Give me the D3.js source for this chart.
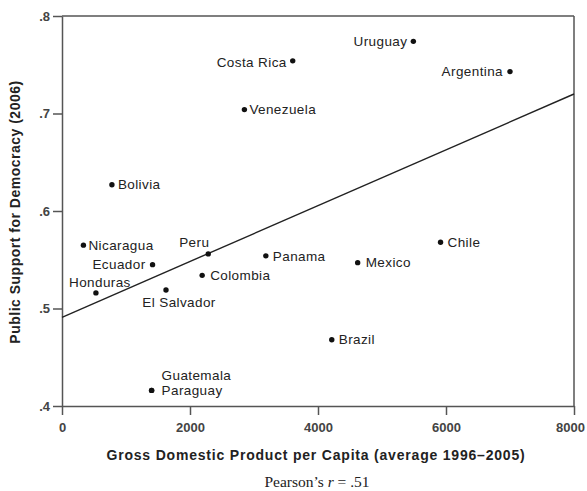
<!DOCTYPE html>
<html>
<head>
<meta charset="utf-8">
<script src="https://cdn.jsdelivr.net/npm/d3@7"></script>
<style>
  body { margin: 0; background: #fff; }
  svg { display: block; }
</style>
</head>
<body>
<svg id="chart" width="587" height="491"></svg>
<script>
// countries, GDP per capita (avg 1996-2005) and support for democracy (2006)
const countries = ["Costa Rica", "Uruguay", "Argentina", "Venezuela", "Bolivia", "Nicaragua", "Peru",
  "Ecuador", "Colombia", "Honduras", "El Salvador", "Panama", "Guatemala", "Paraguay", "Chile", "Mexico", "Brazil"];
const gdp = [3605, 5490, 7000, 2850, 780, 335, 2285, 1415, 2190, 530, 1625, 3185, 1400, 1400, 5915, 4620, 4215];
const support = [.754, .774, .743, .704, .627, .565, .556, .545, .534, .516, .519, .554, .416, .416, .568, .547, .468];

const xTicks = [0, 2000, 4000, 6000, 8000];
const yTicks = [.4, .5, .6, .7, .8];

// regression line end points
const fitX = [0, 8000];
const fitY = [.491, .72];

// label placement relative to the dot
const labelPos = {
  "Costa Rica": ["end", -6, 1], "Uruguay": ["end", -6, 0], "Argentina": ["end", -7, 0],
  "Venezuela": ["start", 5, 0], "Bolivia": ["start", 6, 0], "Nicaragua": ["start", 5, 0],
  "Peru": ["middle", -14, -12], "Ecuador": ["end", -7, 0], "Colombia": ["start", 8, 0],
  "Honduras": ["middle", 4, -11], "El Salvador": ["middle", 13, 12], "Panama": ["start", 7, 0],
  "Guatemala": ["start", 10, -15], "Paraguay": ["start", 10, 0], "Chile": ["start", 7, 0],
  "Mexico": ["start", 8, 0], "Brazil": ["start", 7, 0]
};

const svg = d3.select("#chart");
const sans = "Liberation Sans, Arial, sans-serif";

const x = d3.scaleLinear().domain([0, 8000]).range([62, 574]);
const y = d3.scaleLinear().domain([.4, .8]).range([406, 16]);

// frame: top and right border
svg.append("line").attr("x1", x(0)).attr("x2", x(8000)).attr("y1", y(.8)).attr("y2", y(.8))
  .attr("stroke", "#555").attr("stroke-width", 1.5);
svg.append("line").attr("x1", x(8000)).attr("x2", x(8000)).attr("y1", y(.8)).attr("y2", y(.4))
  .attr("stroke", "#555").attr("stroke-width", 1.5);

const yAxis = d3.axisLeft(y).tickValues(yTicks).tickSize(9).tickSizeOuter(0).tickPadding(3)
  .tickFormat(d => "." + Math.round(d * 10));
const xAxis = d3.axisBottom(x).tickValues(xTicks).tickSize(9).tickSizeOuter(0).tickPadding(8)
  .tickFormat(d3.format("d"));

const gy = svg.append("g").attr("transform", `translate(${x(0)},0)`).call(yAxis);
const gx = svg.append("g").attr("transform", `translate(0,${y(.4)})`).call(xAxis);

[gx, gy].forEach(g => {
  g.select(".domain").attr("stroke", "#555").attr("stroke-width", 1.5);
  g.selectAll(".tick line").attr("stroke", "#555").attr("stroke-width", 1.5);
  g.selectAll(".tick text")
    .attr("fill", "#444")
    .attr("font-family", sans)
    .attr("font-size", 13)
    .attr("font-weight", "bold");
});
// last label sits a little inward so it stays on the page
gx.selectAll(".tick text").filter(d => d === 8000).attr("dx", -4);

// regression line
svg.append("line")
  .attr("x1", x(fitX[0])).attr("y1", y(fitY[0]))
  .attr("x2", x(fitX[1])).attr("y2", y(fitY[1]))
  .attr("stroke", "#222").attr("stroke-width", 1.4);

// points
const pts = countries.map((c, i) => ({ name: c, gdp: gdp[i], support: support[i] }));

svg.append("g").selectAll("circle")
  .data(pts)
  .join("circle")
  .attr("cx", d => x(d.gdp))
  .attr("cy", d => y(d.support))
  .attr("r", 2.7)
  .attr("fill", "#111");

svg.append("g").selectAll("text")
  .data(pts)
  .join("text")
  .attr("x", d => x(d.gdp) + labelPos[d.name][1])
  .attr("y", d => y(d.support) + labelPos[d.name][2])
  .attr("dy", "0.35em")
  .attr("text-anchor", d => labelPos[d.name][0])
  .attr("font-family", sans)
  .attr("font-size", 13.5)
  .attr("letter-spacing", 0.4)
  .attr("fill", "#222")
  .text(d => d.name);

// axis titles
svg.append("text")
  .attr("x", 316).attr("y", 455).attr("dy", "0.35em")
  .attr("text-anchor", "middle")
  .attr("font-family", sans)
  .attr("font-size", 14).attr("font-weight", "bold").attr("fill", "#222")
  .attr("letter-spacing", 0.8)
  .text("Gross Domestic Product per Capita (average 1996–2005)");

svg.append("text")
  .attr("transform", "translate(15,212) rotate(-90)")
  .attr("dy", "0.35em")
  .attr("text-anchor", "middle")
  .attr("font-family", sans)
  .attr("font-size", 14).attr("font-weight", "bold").attr("fill", "#222")
  .attr("letter-spacing", 0.5)
  .text("Public Support for Democracy (2006)");

const pearson = svg.append("text")
  .attr("x", 317).attr("y", 482).attr("dy", "0.35em")
  .attr("text-anchor", "middle")
  .attr("font-family", "Liberation Serif, Times New Roman, serif")
  .attr("font-size", 15.5).attr("fill", "#222");
pearson.append("tspan").text("Pearson’s ");
pearson.append("tspan").attr("font-style", "italic").text("r");
pearson.append("tspan").text(" = .51");
</script>
</body>
</html>
